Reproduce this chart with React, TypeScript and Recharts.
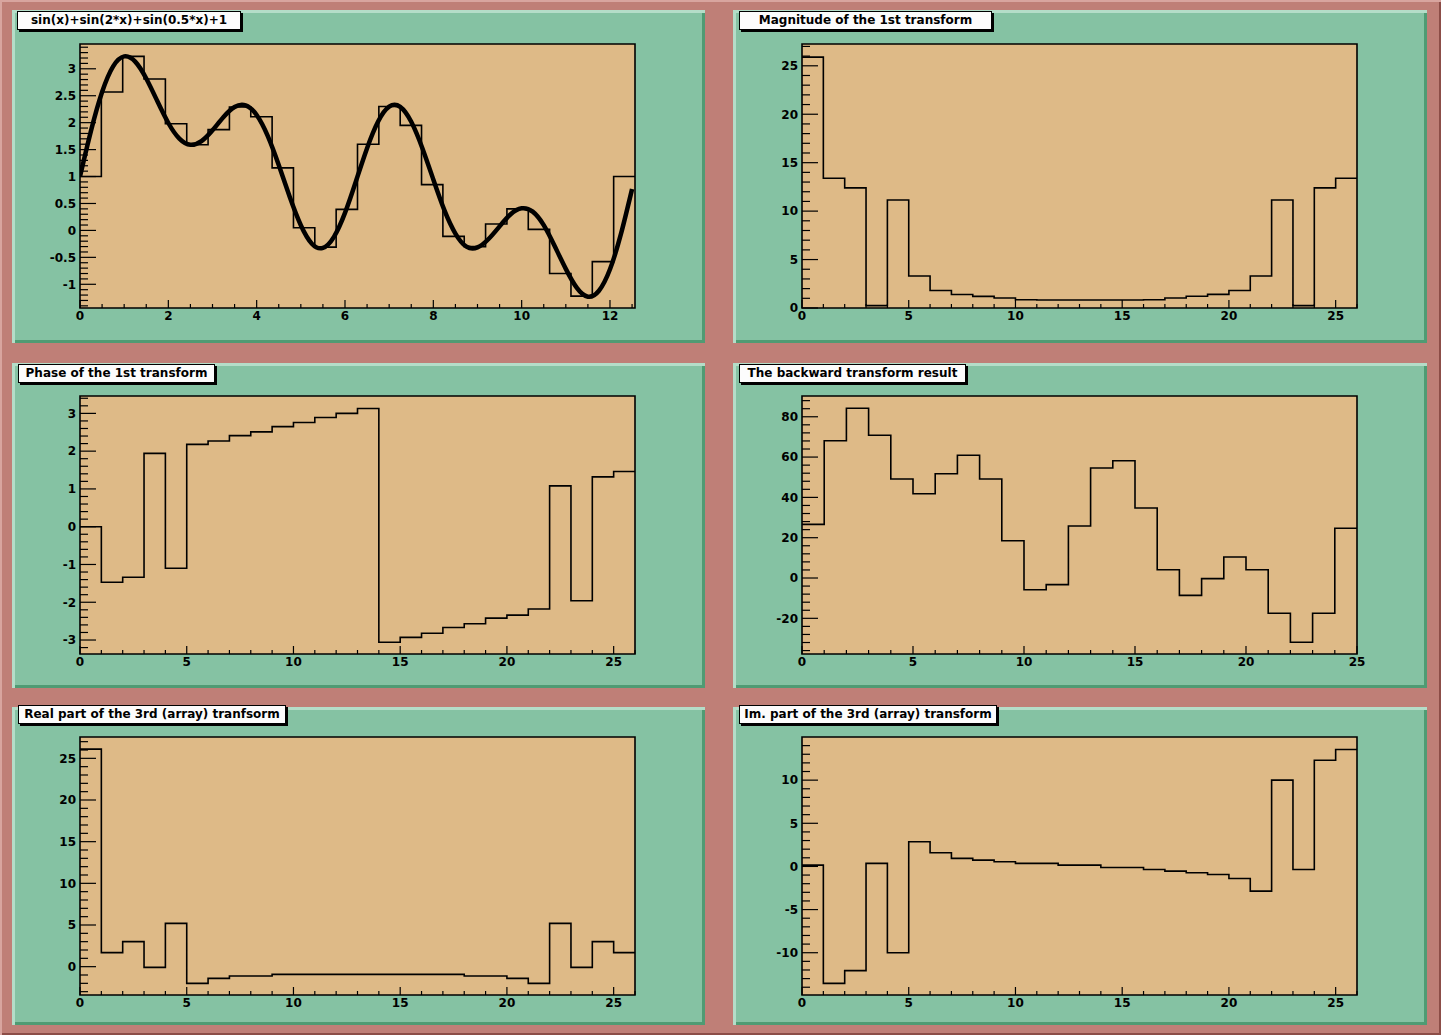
import React from 'react';
import { LineChart, Line, XAxis, YAxis, CartesianGrid, ReferenceArea } from 'recharts';

const CANVAS = '#bf7f77';
const PAD = '#85c2a3';
const FRAME = '#deba87';
const FONT = '"DejaVu Sans", "Liberation Sans", sans-serif';
const FOUR_PI = 4 * Math.PI;
const X_AXIS_H = 20;
const Y_AXIS_W = 40;

// sin(x)+sin(2*x)+sin(0.5*x)+1 sampled every 0.25 from 0 to 12.5
const curveStep = 0.25;
const curveValues = [
  1, 1.852, 2.568, 3.045, 3.23, 3.133, 2.82, 2.401, 1.994, 1.703, 1.589, 1.657, 1.859,
  2.105, 2.29, 2.32, 2.142, 1.754, 1.213, 0.619, 0.096, -0.246, -0.324, -0.119, 0.325,
  0.917, 1.527, 2.022, 2.297, 2.294, 2.017, 1.531, 0.945, 0.376, -0.058, -0.301, -0.316,
  -0.16, 0.075, 0.299, 0.41, 0.349, 0.098, -0.294, -0.714, -1.068, -1.23, -1.12, -0.722,
  -0.061, 0.768,
];

// histogram contents (one value per bin)
const sinBins = [
  1.0, 2.57, 3.23, 2.81, 1.98, 1.59, 1.87, 2.29, 2.11, 1.16, 0.05, -0.31, 0.39, 1.6, 2.3,
  1.95, 0.85, -0.11, -0.3, 0.12, 0.4, 0.02, -0.8, -1.22, -0.58, 1.0,
];
const magnitude = [
  25.9, 13.4, 12.4, 0.25, 11.15, 3.3, 1.8, 1.4, 1.2, 1.03, 0.85, 0.83, 0.83, 0.83, 0.83,
  0.83, 0.85, 1.03, 1.22, 1.41, 1.8, 3.3, 11.15, 0.25, 12.4, 13.4,
];
const phase = [
  0, -1.47, -1.34, 1.94, -1.1, 2.18, 2.27, 2.41, 2.51, 2.65, 2.76, 2.89, 3.0, 3.13, -3.06,
  -2.93, -2.82, -2.67, -2.57, -2.42, -2.34, -2.18, 1.08, -1.96, 1.32, 1.46,
];
const backward = [
  26.6, 68.1, 84.2, 70.8, 49.1, 41.8, 51.7, 60.9, 49.1, 18.5, -5.8, -3.3, 25.8, 54.6, 58.2,
  34.7, 4.1, -8.6, -0.3, 10.4, 4.1, -17.5, -31.9, -17.5, 24.7,
];
const realPart = [
  26.1, 1.68, 3.0, -0.08, 5.2, -2.0, -1.4, -1.12, -1.12, -0.92, -0.92, -0.92, -0.92, -0.92,
  -0.92, -0.92, -0.92, -0.92, -1.12, -1.12, -1.4, -2.0, 5.2, -0.08, 3.0, 1.68,
];
const imPart = [
  0.15, -13.55, -12.08, 0.35, -10.0, 2.86, 1.58, 0.93, 0.73, 0.54, 0.35, 0.35, 0.15, 0.15,
  -0.12, -0.12, -0.35, -0.54, -0.73, -0.93, -1.39, -2.86, 10.0, -0.35, 12.3, 13.55,
];

// tick labels
const xMajorSin = [0, 2, 4, 6, 8, 10, 12];
const yMajorSin = [-1, -0.5, 0, 0.5, 1, 1.5, 2, 2.5, 3];
const xMajorBins = [0, 5, 10, 15, 20, 25];
const yMajorMag = [0, 5, 10, 15, 20, 25];
const yMajorPhase = [-3, -2, -1, 0, 1, 2, 3];
const yMajorBack = [-20, 0, 20, 40, 60, 80];
const yMajorIm = [-10, -5, 0, 5, 10];

const range = (a: number, b: number, step: number) => {
  const out: number[] = [];
  const n = Math.round((b - a) / step);
  for (let i = 0; i <= n; i++) out.push(Math.round((a + i * step) * 1000) / 1000);
  return out;
};

const stepData = (vals: number[], w: number) => [
  ...vals.map((v, i) => ({ x: i * w, y: v })),
  { x: vals.length * w, y: vals[vals.length - 1] },
];

const isIn = (list: number[], v: number) => list.some((m) => Math.abs(m - v) < 1e-6);

const fmt = (v: number) => String(Math.round(v * 100) / 100);

function XTick(props: any) {
  const { x, y, payload, majors } = props;
  const major = isIn(majors, payload.value);
  return (
    <g>
      <line x1={x} y1={y} x2={x} y2={y - (major ? 8 : 4)} stroke="#000" strokeWidth={1.2} />
      {major && (
        <text x={x} y={y + 11.5} textAnchor="middle" fontFamily={FONT} fontWeight="bold" fontSize={12} fill="#000">
          {fmt(payload.value)}
        </text>
      )}
    </g>
  );
}

function YTick(props: any) {
  const { x, y, payload, majors } = props;
  const major = isIn(majors, payload.value);
  return (
    <g>
      <line x1={x} y1={y} x2={x + (major ? 16 : 8)} y2={y} stroke="#000" strokeWidth={1.2} />
      {major && (
        <text x={x - 4} y={y + 4.3} textAnchor="end" fontFamily={FONT} fontWeight="bold" fontSize={12} fill="#000">
          {fmt(payload.value)}
        </text>
      )}
    </g>
  );
}

type Box = { left: number; top: number; width: number; height: number };

interface PanelProps {
  pad: Box;
  frame: [number, number, number, number];
  titleBox: Box;
  title: string;
  xDomain: [number, number];
  yDomain: [number, number];
  xMajor: number[];
  xMinor: number[];
  yMajor: number[];
  yMinor: number[];
  bins: number[];
  binWidth: number;
  curve?: { x: number; y: number }[];
}

function Panel(p: PanelProps) {
  const { pad, frame } = p;
  const margin = {
    top: frame[1] - pad.top,
    left: frame[0] - pad.left - Y_AXIS_W,
    right: pad.left + pad.width - frame[2],
    bottom: pad.top + pad.height - frame[3] - X_AXIS_H,
  };
  const xTicks = Array.from(new Set([...p.xMinor, ...p.xMajor])).sort((a, b) => a - b);
  const yTicks = Array.from(new Set([...p.yMinor, ...p.yMajor])).sort((a, b) => a - b);
  return (
    <>
      <div
        style={{
          position: 'absolute',
          left: pad.left,
          top: pad.top,
          width: pad.width,
          height: pad.height,
          background: PAD,
          boxShadow: 'inset 3px 3px 0 #b4ddc8, inset -3px -3px 0 #4f9b73',
        }}
      >
        <LineChart width={pad.width} height={pad.height} margin={margin}>
          <CartesianGrid horizontal={false} vertical={false} fill={FRAME} fillOpacity={1} />
          <XAxis
            type="number"
            dataKey="x"
            domain={p.xDomain}
            allowDataOverflow
            ticks={xTicks}
            interval={0}
            height={X_AXIS_H}
            tickSize={0}
            tickMargin={0}
            axisLine={false}
            tickLine={false}
            tick={(t: any) => <XTick {...t} majors={p.xMajor} />}
          />
          <YAxis
            type="number"
            domain={p.yDomain}
            allowDataOverflow
            ticks={yTicks}
            interval={0}
            width={Y_AXIS_W}
            tickSize={0}
            tickMargin={0}
            axisLine={false}
            tickLine={false}
            tick={(t: any) => <YTick {...t} majors={p.yMajor} />}
          />
          <Line
            data={stepData(p.bins, p.binWidth)}
            dataKey="y"
            type="stepAfter"
            stroke="#000"
            strokeWidth={1.6}
            dot={false}
            activeDot={false}
            isAnimationActive={false}
          />
          {p.curve && (
            <Line
              data={p.curve}
              dataKey="y"
              type="natural"
              stroke="#000"
              strokeWidth={4.5}
              strokeLinejoin="round"
              dot={false}
              activeDot={false}
              isAnimationActive={false}
            />
          )}
          <ReferenceArea
            x1={p.xDomain[0]}
            x2={p.xDomain[1]}
            y1={p.yDomain[0]}
            y2={p.yDomain[1]}
            fill="none"
            fillOpacity={0}
            stroke="#000"
            strokeWidth={1.6}
            ifOverflow="visible"
          />
        </LineChart>
      </div>
      <div
        style={{
          position: 'absolute',
          left: p.titleBox.left,
          top: p.titleBox.top,
          width: p.titleBox.width,
          height: p.titleBox.height,
          boxSizing: 'border-box',
          background: '#fcfcfc',
          border: '1px solid #000',
          boxShadow: '2px 2px 0 #000',
          fontFamily: FONT,
          fontWeight: 'bold',
          fontSize: 12,
          lineHeight: `${p.titleBox.height - 2}px`,
          textAlign: 'center',
          whiteSpace: 'nowrap',
          color: '#000',
        }}
      >
        {p.title}
      </div>
    </>
  );
}

const curve = curveValues.map((v, i) => ({ x: i * curveStep, y: v }));

const panels: PanelProps[] = [
  {
    pad: { left: 12, top: 10, width: 693, height: 333 },
    frame: [80, 44, 635, 308],
    titleBox: { left: 17, top: 11, width: 224, height: 19 },
    title: 'sin(x)+sin(2*x)+sin(0.5*x)+1',
    xDomain: [0, FOUR_PI],
    yDomain: [-1.44, 3.46],
    xMajor: xMajorSin,
    xMinor: range(0, 12.5, 0.5),
    yMajor: yMajorSin,
    yMinor: range(-1.4, 3.4, 0.1),
    bins: sinBins,
    binWidth: FOUR_PI / sinBins.length,
    curve,
  },
  {
    pad: { left: 733, top: 10, width: 694, height: 333 },
    frame: [802, 44, 1357, 308],
    titleBox: { left: 739, top: 11, width: 253, height: 19 },
    title: 'Magnitude of the 1st transform',
    xDomain: [0, 26],
    yDomain: [0, 27.25],
    xMajor: xMajorBins,
    xMinor: range(0, 26, 1),
    yMajor: yMajorMag,
    yMinor: range(0, 27, 1),
    bins: magnitude,
    binWidth: 1,
  },
  {
    pad: { left: 12, top: 363, width: 693, height: 325 },
    frame: [80, 396, 635, 654],
    titleBox: { left: 18, top: 364, width: 197, height: 19 },
    title: 'Phase of the 1st transform',
    xDomain: [0, 26],
    yDomain: [-3.37, 3.46],
    xMajor: xMajorBins,
    xMinor: range(0, 26, 1),
    yMajor: yMajorPhase,
    yMinor: range(-3.2, 3.4, 0.2),
    bins: phase,
    binWidth: 1,
  },
  {
    pad: { left: 733, top: 363, width: 694, height: 325 },
    frame: [802, 396, 1357, 654],
    titleBox: { left: 739, top: 364, width: 227, height: 19 },
    title: 'The backward transform result',
    xDomain: [0, 25],
    yDomain: [-37.7, 90.3],
    xMajor: xMajorBins,
    xMinor: range(0, 25, 1),
    yMajor: yMajorBack,
    yMinor: range(-36, 88, 4),
    bins: backward,
    binWidth: 1,
  },
  {
    pad: { left: 12, top: 707, width: 693, height: 318 },
    frame: [80, 737, 635, 995],
    titleBox: { left: 18, top: 705, width: 268, height: 19 },
    title: 'Real part of the 3rd (array) tranfsorm',
    xDomain: [0, 26],
    yDomain: [-3.4, 27.56],
    xMajor: xMajorBins,
    xMinor: range(0, 26, 1),
    yMajor: yMajorMag,
    yMinor: range(-3, 27, 1),
    bins: realPart,
    binWidth: 1,
  },
  {
    pad: { left: 733, top: 707, width: 694, height: 318 },
    frame: [802, 737, 1357, 995],
    titleBox: { left: 739, top: 705, width: 258, height: 19 },
    title: 'Im. part of the 3rd (array) transform',
    xDomain: [0, 26],
    yDomain: [-14.9, 15],
    xMajor: xMajorBins,
    xMinor: range(0, 26, 1),
    yMajor: yMajorIm,
    yMinor: range(-14, 14, 1),
    bins: imPart,
    binWidth: 1,
  },
];

export default function App() {
  return (
    <div
      style={{
        position: 'absolute',
        left: 0,
        top: 0,
        width: 1441,
        height: 1035,
        background: CANVAS,
        boxShadow: 'inset 2px 2px 0 #d8a59f, inset -2px -2px 0 #8c4d47',
        overflow: 'hidden',
      }}
    >
      {panels.map((p) => (
        <Panel key={p.title} {...p} />
      ))}
    </div>
  );
}
